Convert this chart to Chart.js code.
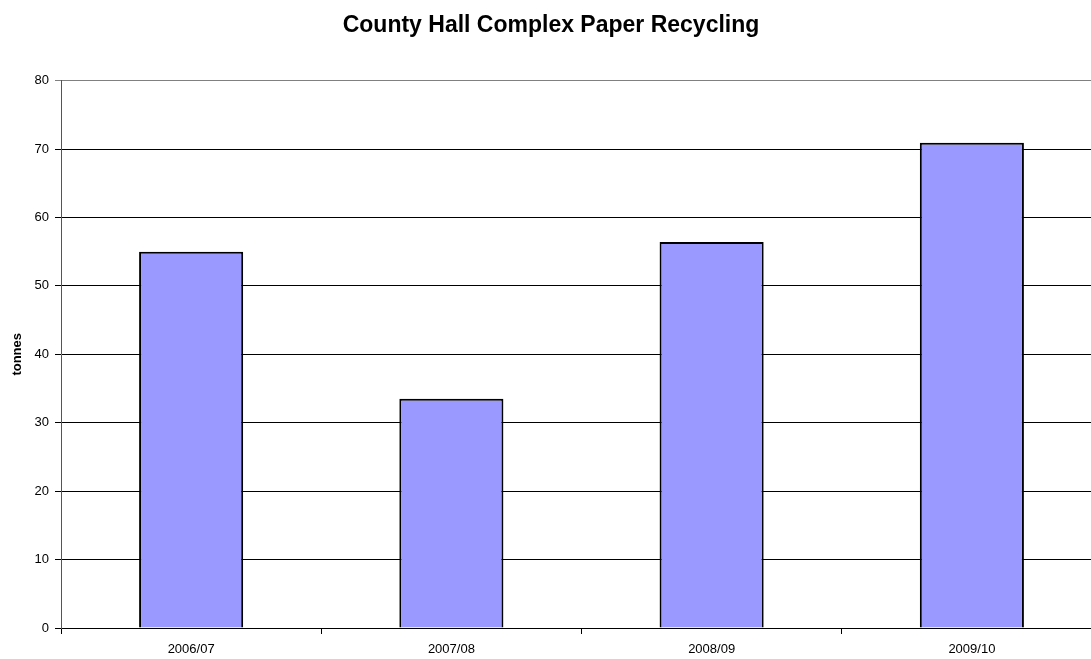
<!DOCTYPE html>
<html>
<head>
<meta charset="utf-8">
<title>County Hall Complex Paper Recycling</title>
<script src="https://cdn.jsdelivr.net/npm/chart.js@4/dist/chart.umd.min.js"></script>
<style>
  html, body { margin: 0; padding: 0; background: #fff; overflow: hidden; }
  #wrap { width: 1102px; height: 659px; }
</style>
</head>
<body>
<div id="wrap"><canvas id="chart"></canvas></div>
<script>
// ---- Data ----
const years = ['2006/07', '2007/08', '2008/09', '2009/10'];
const tonnes = [55.0, 33.5, 56.4, 70.9];
const yTicks = [0, 10, 20, 30, 40, 50, 60, 70, 80];

const font = 'Arial, "Liberation Sans", sans-serif';

new Chart(document.getElementById('chart'), {
    type: 'bar',
    data: {
        labels: years,
        datasets: [{
            label: 'tonnes',
            data: tonnes,
            backgroundColor: '#9999ff',
            borderColor: '#000',
            borderWidth: 2,
            barPercentage: 0.4,
            categoryPercentage: 1.0,
        }]
    },
    options: {
        responsive: true,
        maintainAspectRatio: false,
        animation: false,
        plugins: {
            legend: { display: false },
            tooltip: { enabled: false },
            title: {
                display: true,
                text: 'County Hall Complex Paper Recycling',
                color: '#000',
                font: { family: font, size: 23, weight: 'bold' },
                padding: { top: 12, bottom: 41 },
            }
        },
        scales: {
            x: {
                grid: { offset: true, drawOnChartArea: false, drawTicks: true, tickLength: 6, color: '#000' },
                border: { color: '#000', width: 1 },
                ticks: { color: '#000', font: { family: font, size: 13 }, padding: 8 },
                afterFit: s => { s.height = 31; }
            },
            y: {
                min: yTicks[0],
                max: yTicks[yTicks.length - 1],
                afterBuildTicks: s => { s.ticks = yTicks.map(v => ({ value: v })); },
                grid: {
                    color: ctx => (ctx.tick && ctx.tick.value === 80) ? '#808080' : '#000',
                    tickLength: 6,
                    lineWidth: 1,
                },
                border: { color: '#555', width: 1 },
                ticks: { color: '#000', font: { family: font, size: 13 }, padding: 6 },
                title: {
                    display: true,
                    text: 'tonnes',
                    color: '#000',
                    font: { family: font, size: 13, weight: 'bold' },
                    padding: { top: 10, bottom: 4 },
                },
                afterFit: s => { s.width = 61; }
            }
        }
    }
});
</script>
</body>
</html>
